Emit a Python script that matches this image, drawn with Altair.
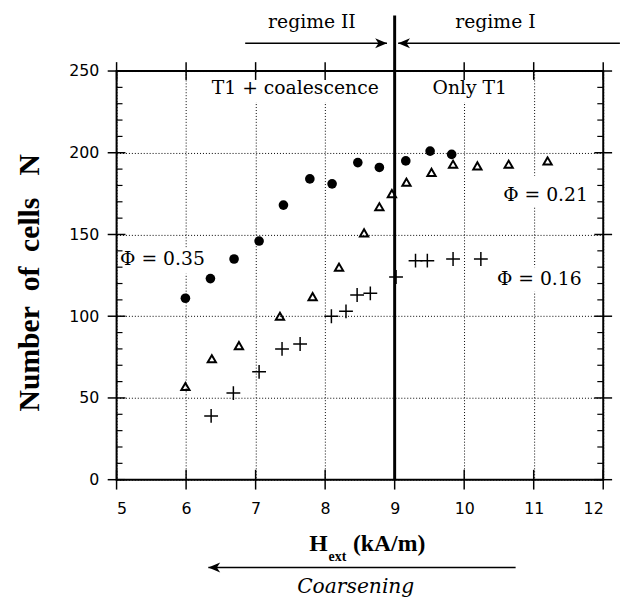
import altair as alt
import pandas as pd

# ---- data ----
phi035_h = [5.99, 6.35, 6.69, 7.05, 7.40, 7.78, 8.10, 8.47, 8.78, 9.16, 9.51, 9.82]
phi035_n = [111, 123, 135, 146, 168, 184, 181, 194, 191, 195, 201, 199]

phi021_h = [5.99, 6.37, 6.76, 7.35, 7.82, 8.20, 8.56, 8.78, 8.96, 9.17, 9.53, 9.84, 10.19, 10.64, 11.20]
phi021_n = [57, 74, 82, 100, 112, 130, 151, 167, 175, 182, 188, 193, 192, 193, 195]

phi016_h = [6.36, 6.68, 7.05, 7.38, 7.64, 8.09, 8.30, 8.46, 8.65, 9.02, 9.30, 9.47, 9.84, 10.24]
phi016_n = [39, 53, 66, 80, 83, 100, 103, 113, 114, 124, 134, 134, 135, 135]

x_ticks = [5, 6, 7, 8, 9, 10, 11, 12]
y_major = [0, 50, 100, 150, 200, 250]
y_minor = [v for v in range(10, 250, 10) if v % 50 != 0]

regime_boundary = 9.0

# annotation texts (data coordinates)
ann_texts = ["regime II", "regime I", "T1 + coalescence", "Only T1", "Φ = 0.35", "Φ = 0.21", "Φ = 0.16"]
ann_x = [7.81, 10.45, 7.57, 10.08, 5.66, 11.17, 11.08]
ann_y = [280, 280, 239.7, 239.7, 134.7, 174.3, 123]

# white knock-out areas behind the in-plot labels (data coordinates)
knock_x1 = [6.45, 9.45, 5.05, 10.50, 10.45]
knock_x2 = [8.75, 10.60, 6.22, 11.90, 11.75]
knock_y1 = [231, 231, 126, 167, 115]
knock_y2 = [249, 249, 142, 186, 130]

# arrows (data coordinates): start, end (head at end), level
arrow_x1 = [6.85, 12.24, 10.74]
arrow_x2 = [8.89, 9.05, 6.32]
arrow_y = [267, 267, -53.7]
arrow_dir = ["right", "left", "left"]

X_DOMAIN = [5, 12]
Y_DOMAIN = [0, 250]

xs = alt.Scale(domain=X_DOMAIN, nice=False, zero=False)
ys = alt.Scale(domain=Y_DOMAIN, nice=False, zero=False)

SERIF = "DejaVu Serif"
TSERIF = "Liberation Serif"
SANS = "DejaVu Sans"
NB = "\u00a0"

x_axis = alt.Axis(values=x_ticks, grid=True, gridDash=[1, 2], gridColor="black", gridWidth=1,
                  gridOpacity=1, domain=False, ticks=False, tickSize=0, labelPadding=21,
                  labelFont=SANS, labelFontSize=16, labelColor="black", title=None)
y_axis = alt.Axis(values=y_major, grid=True, gridDash=[1, 2], gridColor="black", gridWidth=1,
                  gridOpacity=1, domain=False, ticks=False, tickSize=0, labelPadding=18,
                  labelFont=SANS, labelFontSize=16, labelColor="black",
                  title="Number" + NB * 2 + "of" + NB * 2 + "cells" + NB * 3 + "N",
                  titleFont=TSERIF, titleFontSize=30,
                  titleFontWeight="bold", titleColor="black", titleAngle=270,
                  titleX=-88, titleY=214, titleAlign="center", titleBaseline="middle")


def X(field="x"):
    return alt.X(f"{field}:Q", scale=xs, axis=x_axis)


def Y(field="y"):
    return alt.Y(f"{field}:Q", scale=ys, axis=y_axis)


df035 = pd.DataFrame({"x": phi035_h, "y": phi035_n})
df021 = pd.DataFrame({"x": phi021_h, "y": phi021_n})
df016 = pd.DataFrame({"x": phi016_h, "y": phi016_n})

knock = alt.Chart(pd.DataFrame({"x": knock_x1, "x2": knock_x2, "y": knock_y1, "y2": knock_y2})).mark_rect(
    color="white", opacity=1).encode(x=X(), x2="x2:Q", y=Y(), y2="y2:Q")

circles = alt.Chart(df035).mark_point(shape="circle", filled=True, size=95, color="black", opacity=1).encode(
    x=X(), y=Y())
triangles = alt.Chart(df021).mark_point(shape="triangle-up", filled=False, size=70, strokeWidth=2,
                                        color="black", opacity=1).encode(x=X(), y=Y())
pluses = alt.Chart(df016).mark_point(shape="M-1,0L1,0M0,-1L0,1", filled=False, size=196, strokeWidth=1.5,
                                     color="black", opacity=1).encode(x=X(), y=Y())

# ---- tick marks ----
left_major = pd.DataFrame({"x": [X_DOMAIN[0]] * len(y_major), "y": y_major})
right_major = pd.DataFrame({"x": [X_DOMAIN[1]] * len(y_major), "y": y_major})
left_minor = pd.DataFrame({"x": [X_DOMAIN[0]] * len(y_minor), "y": y_minor})
right_minor = pd.DataFrame({"x": [X_DOMAIN[1]] * len(y_minor), "y": y_minor})
bottom_major = pd.DataFrame({"x": x_ticks, "y": [Y_DOMAIN[0]] * len(x_ticks)})
top_major = pd.DataFrame({"x": x_ticks, "y": [Y_DOMAIN[1]] * len(x_ticks)})

tick_layers = [
    alt.Chart(left_major).mark_tick(orient="horizontal", size=18, thickness=1.5, color="black", opacity=1).encode(x=X(), y=Y()),
    alt.Chart(right_major).mark_tick(orient="horizontal", size=18, thickness=1.5, color="black", opacity=1).encode(x=X(), y=Y()),
    alt.Chart(left_minor).mark_tick(orient="horizontal", size=6, thickness=1.2, xOffset=3, color="black", opacity=1).encode(x=X(), y=Y()),
    alt.Chart(right_minor).mark_tick(orient="horizontal", size=6, thickness=1.2, xOffset=-3, color="black", opacity=1).encode(x=X(), y=Y()),
    alt.Chart(bottom_major).mark_tick(orient="vertical", size=20, thickness=1.5, color="black", opacity=1).encode(x=X(), y=Y()),
    alt.Chart(top_major).mark_tick(orient="vertical", size=18, thickness=1.5, color="black", opacity=1).encode(x=X(), y=Y()),
]

# ---- regime boundary ----
boundary = alt.Chart(pd.DataFrame({"x": [regime_boundary], "y": [0], "y2": [284]})).mark_rule(
    strokeWidth=3, color="black").encode(x=X(), y=Y(), y2="y2:Q")

# ---- arrows ----
arr = pd.DataFrame({"x": arrow_x1, "x2": arrow_x2, "y": arrow_y, "dir": arrow_dir})
shafts = alt.Chart(arr).mark_rule(strokeWidth=1.6, color="black").encode(x=X(), x2="x2:Q", y=Y())
heads_r = alt.Chart(arr[arr.dir == "right"]).mark_point(
    shape="M0,0L-1,-0.42L-0.72,0L-1,0.42Z", filled=True, size=576, color="black", opacity=1, strokeWidth=0.5
).encode(x=X("x2"), y=Y())
heads_l = alt.Chart(arr[arr.dir == "left"]).mark_point(
    shape="M0,0L1,-0.42L0.72,0L1,0.42Z", filled=True, size=576, color="black", opacity=1, strokeWidth=0.5
).encode(x=X("x2"), y=Y())

# ---- annotation texts ----
ann = pd.DataFrame({"t": ann_texts, "x": ann_x, "y": ann_y})
ann_layer = alt.Chart(ann).mark_text(font=SERIF, fontSize=19, color="black", align="center",
                                     baseline="middle").encode(x=X(), y=Y(), text="t:N")

# ---- x axis title with subscript and coarsening label ----
xt = pd.DataFrame({"t": ["H"], "x": [7.77], "y": [-39.3]})
xsub = pd.DataFrame({"t": ["ext"], "x": [8.05], "y": [-47.5]})
xunit = pd.DataFrame({"t": ["(kA/m)"], "x": [8.40], "y": [-39.3]})
coars = pd.DataFrame({"t": ["Coarsening"], "x": [8.44], "y": [-65.5]})

xt_layer = alt.Chart(xt).mark_text(font=TSERIF, fontSize=24, fontWeight="bold", align="left",
                                   baseline="middle", color="black").encode(x=X(), y=Y(), text="t:N")
xsub_layer = alt.Chart(xsub).mark_text(font=TSERIF, fontSize=14, fontWeight="bold", align="left",
                                       baseline="middle", color="black").encode(x=X(), y=Y(), text="t:N")
xunit_layer = alt.Chart(xunit).mark_text(font=TSERIF, fontSize=24, fontWeight="bold", align="left",
                                         baseline="middle", color="black").encode(x=X(), y=Y(), text="t:N")
coars_layer = alt.Chart(coars).mark_text(font=SERIF, fontSize=20.5, fontStyle="italic", align="center",
                                         baseline="middle", color="black").encode(x=X(), y=Y(), text="t:N")

chart = alt.layer(
    knock, circles, triangles, pluses, *tick_layers, boundary, shafts, heads_r, heads_l,
    ann_layer, xt_layer, xsub_layer, xunit_layer, coars_layer
).properties(
    width=493, height=414,
    autosize=alt.AutoSizeParams(type="none"),
    padding={"left": 110, "top": 60, "right": 17, "bottom": 115},
    background="white",
).configure_view(stroke="black", strokeWidth=2)

chart.save("out.html", embed_options={"renderer": "svg", "actions": False})
